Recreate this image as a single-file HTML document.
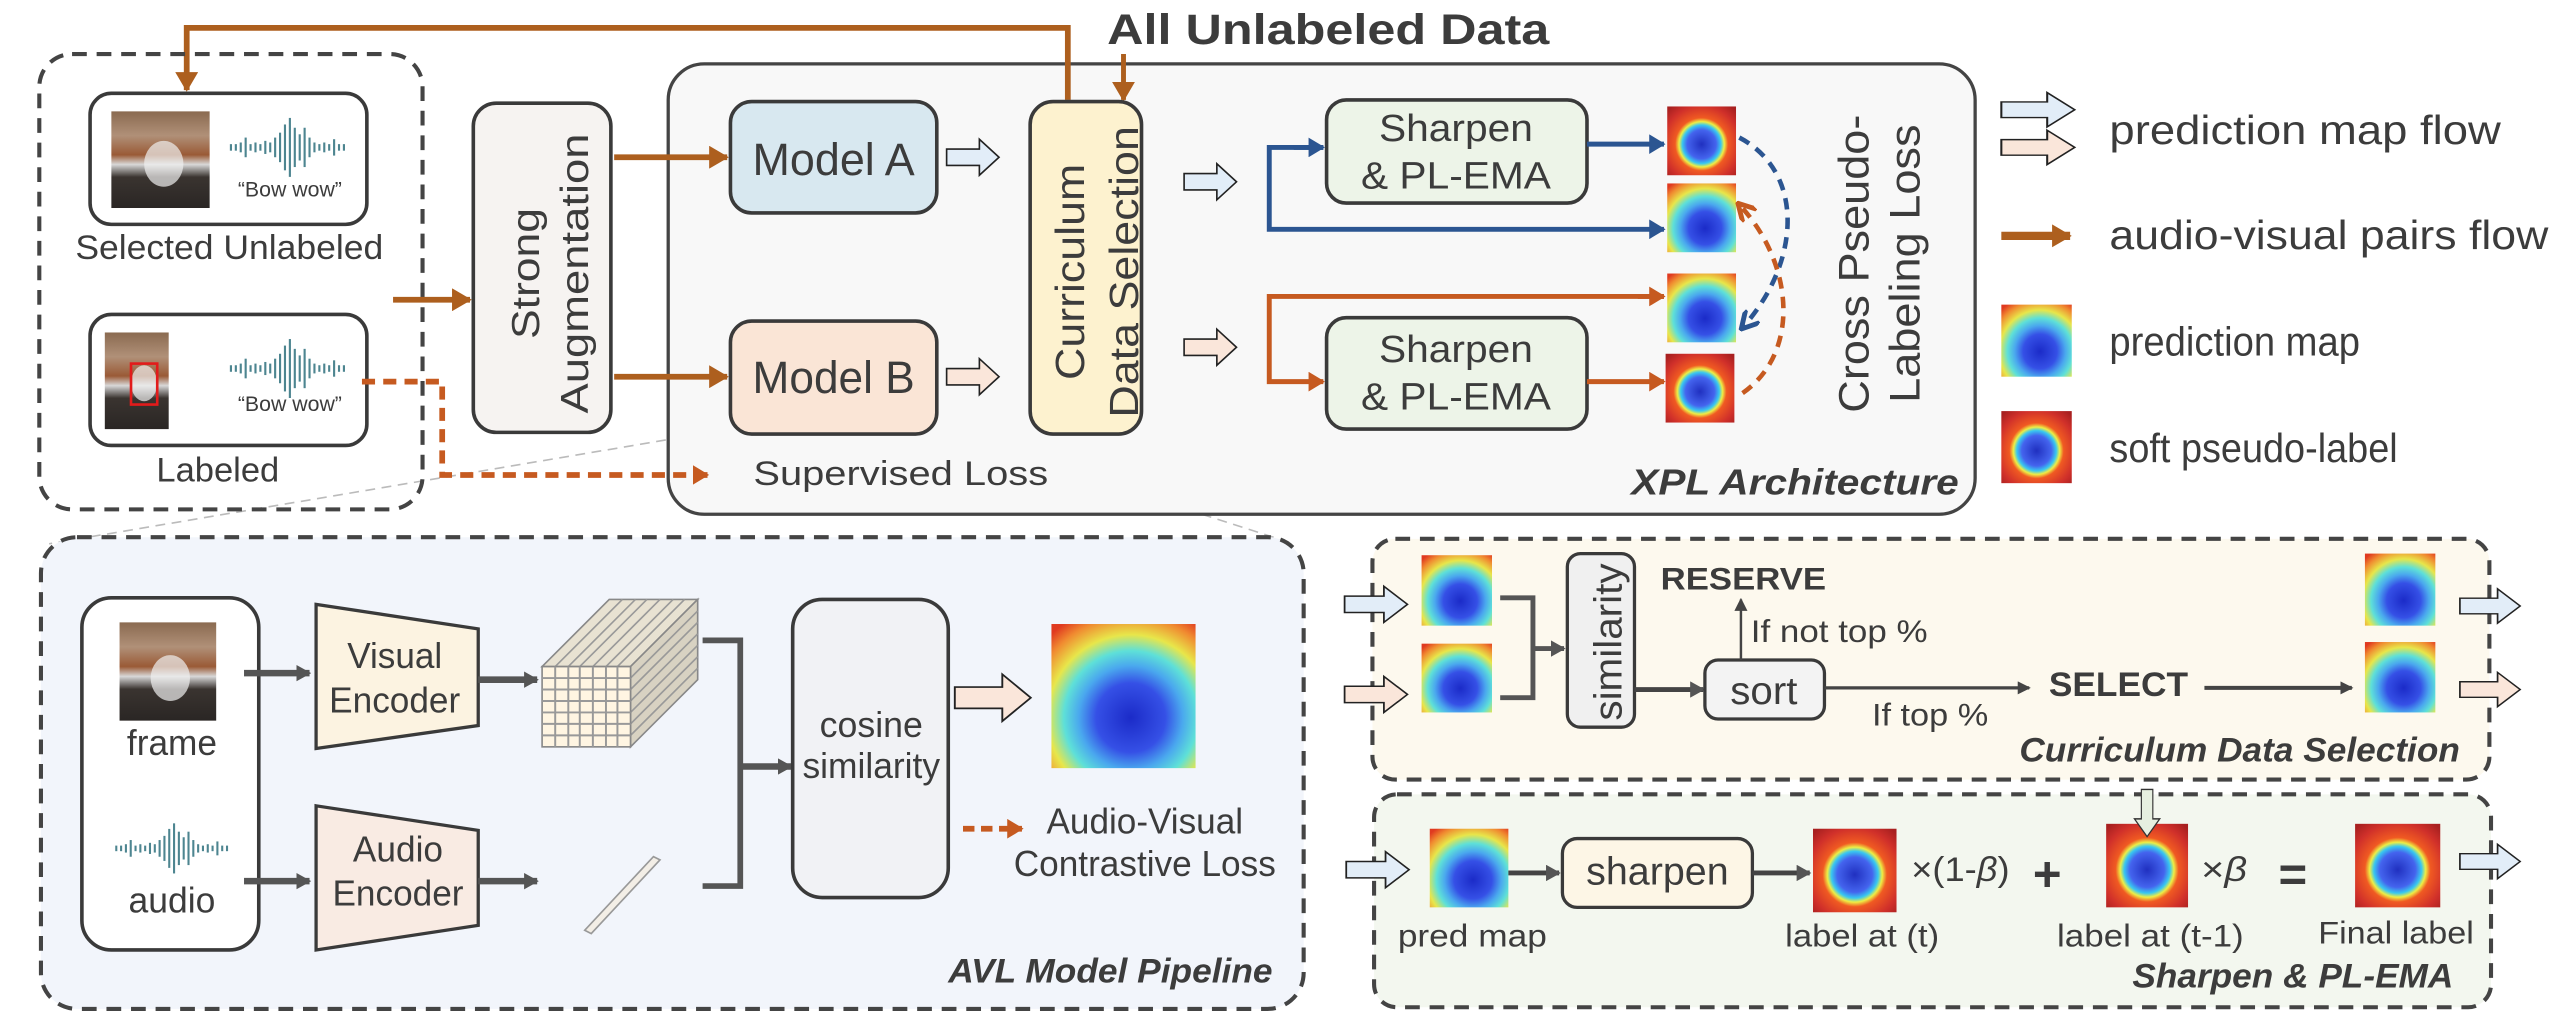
<!DOCTYPE html>
<html><head><meta charset="utf-8"><style>
html,body{margin:0;padding:0;background:#fff;}
svg{display:block;}
text{font-family:"Liberation Sans",sans-serif;fill:#3c3c3c;}
.n{font-family:"Liberation Sans Narrow","Liberation Sans",sans-serif;}
</style></head><body>
<svg width="2568" height="1022" viewBox="0 0 1568 624" preserveAspectRatio="none" xmlns="http://www.w3.org/2000/svg">
<defs>
<radialGradient id="pg" cx="0.55" cy="0.65" r="0.8">
<stop offset="0" stop-color="#1b2bc8"/><stop offset="0.3" stop-color="#3550e6"/><stop offset="0.45" stop-color="#4aa8ee"/><stop offset="0.58" stop-color="#5ee0d8"/><stop offset="0.72" stop-color="#e8e64a"/><stop offset="0.88" stop-color="#f08a30"/><stop offset="1" stop-color="#e03a20"/>
</radialGradient>
<radialGradient id="sg" cx="0.5" cy="0.55" r="0.7">
<stop offset="0" stop-color="#2030c0"/><stop offset="0.3" stop-color="#4464ee"/><stop offset="0.4" stop-color="#38c8f0"/><stop offset="0.47" stop-color="#eeee44"/><stop offset="0.55" stop-color="#f05a22"/><stop offset="0.8" stop-color="#d0302a"/><stop offset="1" stop-color="#a82020"/>
</radialGradient>
<linearGradient id="dog" x1="0" y1="0" x2="0" y2="1">
<stop offset="0" stop-color="#8a6a50"/><stop offset="0.25" stop-color="#b09078"/><stop offset="0.45" stop-color="#9a5a36"/><stop offset="0.55" stop-color="#d8d8d8"/><stop offset="0.68" stop-color="#3a3430"/><stop offset="1" stop-color="#2a2624"/>
</linearGradient>
<path id="ha" d="M0,-5 H20 V-11 L32,0 L20,11 V5 H0 Z"/>
<g id="wave" stroke="#4d8590" stroke-width="1.3">
<line x1="0" y1="-2" x2="0" y2="2"/><line x1="3" y1="-2" x2="3" y2="2"/><line x1="6" y1="-3" x2="6" y2="3"/><line x1="9" y1="-6" x2="9" y2="6"/><line x1="12" y1="-2" x2="12" y2="2"/><line x1="15" y1="-3" x2="15" y2="3"/><line x1="18" y1="-2" x2="18" y2="2"/><line x1="21" y1="-4" x2="21" y2="4"/><line x1="24" y1="-3" x2="24" y2="3"/><line x1="27" y1="-6" x2="27" y2="6"/><line x1="30" y1="-9" x2="30" y2="9"/><line x1="33" y1="-14" x2="33" y2="14"/><line x1="36" y1="-18" x2="36" y2="18"/><line x1="39" y1="-12" x2="39" y2="12"/><line x1="42" y1="-8" x2="42" y2="8"/><line x1="45" y1="-12" x2="45" y2="12"/><line x1="48" y1="-6" x2="48" y2="6"/><line x1="51" y1="-3" x2="51" y2="3"/><line x1="54" y1="-2" x2="54" y2="2"/><line x1="57" y1="-3" x2="57" y2="3"/><line x1="60" y1="-2" x2="60" y2="2"/><line x1="63" y1="-5" x2="63" y2="5"/><line x1="66" y1="-2" x2="66" y2="2"/><line x1="69" y1="-2" x2="69" y2="2"/>
</g>
<marker id="mo" markerWidth="12" markerHeight="14" refX="11" refY="7" orient="auto" markerUnits="userSpaceOnUse"><path d="M0,0 L12,7 L0,14 Z" fill="#ad5f1e"/></marker>
<marker id="mr" markerWidth="10" markerHeight="12" refX="9" refY="6" orient="auto" markerUnits="userSpaceOnUse"><path d="M0,0 L10,6 L0,12 Z" fill="#c65a20"/></marker>
<marker id="mb" markerWidth="10" markerHeight="12" refX="9" refY="6" orient="auto" markerUnits="userSpaceOnUse"><path d="M0,0 L10,6 L0,12 Z" fill="#2b5591"/></marker>
<marker id="mg" markerWidth="9" markerHeight="10" refX="8" refY="5" orient="auto" markerUnits="userSpaceOnUse"><path d="M0,0 L9,5 L0,10 Z" fill="#555"/></marker>
<marker id="mk" markerWidth="8" markerHeight="8" refX="7" refY="4" orient="auto" markerUnits="userSpaceOnUse"><path d="M0,0 L8,4 L0,8 Z" fill="#444"/></marker>
<marker id="mcb" viewBox="0 0 10 10" markerWidth="12" markerHeight="12" refX="8" refY="5" orient="auto" markerUnits="userSpaceOnUse"><path d="M0,0 L9,5 L0,10" fill="none" stroke="#2b5591" stroke-width="2.5"/></marker>
<marker id="mco" viewBox="0 0 10 10" markerWidth="12" markerHeight="12" refX="8" refY="5" orient="auto" markerUnits="userSpaceOnUse"><path d="M0,0 L9,5 L0,10" fill="none" stroke="#c65a20" stroke-width="2.5"/></marker>
</defs>

<line x1="446" y1="262" x2="30" y2="332" stroke="#bbb" stroke-width="1" stroke-dasharray="6,4"/>
<line x1="572" y1="262" x2="790" y2="332" stroke="#bbb" stroke-width="1" stroke-dasharray="6,4"/>

<rect x="408" y="39" width="798" height="275" rx="22" fill="#f8f8f8" stroke="#444" stroke-width="2"/>

<path d="M652,61 V17 H114 V55" fill="none" stroke="#ad5f1e" stroke-width="3.5" marker-end="url(#mo)"/>
<text x="676" y="27" font-size="26" font-weight="bold" textLength="270" lengthAdjust="spacingAndGlyphs" class="n">All Unlabeled Data</text>
<path d="M686,33 V61" stroke="#ad5f1e" stroke-width="3" marker-end="url(#mo)"/>

<rect x="24" y="33" width="234" height="278" rx="20" fill="none" stroke="#444" stroke-width="2.5" stroke-dasharray="9,6"/>
<rect x="55" y="57" width="169" height="80" rx="13" fill="#fff" stroke="#3a3a3a" stroke-width="2.2"/>
<rect x="68" y="68" width="60" height="59" fill="url(#dog)"/>
<ellipse cx="100" cy="100" rx="12" ry="14" fill="#f0f0f0" opacity="0.7"/>
<use href="#wave" x="141" y="90"/>
<text x="177" y="120" font-size="13" text-anchor="middle" fill="#555">“Bow wow”</text>
<text x="140" y="158" font-size="21" text-anchor="middle" class="n" textLength="188" lengthAdjust="spacingAndGlyphs">Selected Unlabeled</text>
<rect x="55" y="192" width="169" height="80" rx="13" fill="#fff" stroke="#3a3a3a" stroke-width="2.2"/>
<rect x="64" y="203" width="39" height="59" fill="url(#dog)"/>
<ellipse cx="88" cy="234" rx="8" ry="11" fill="#f0f0f0" opacity="0.7"/>
<rect x="80" y="222" width="16" height="25" fill="none" stroke="#e21b1b" stroke-width="1.6"/>
<use href="#wave" x="141" y="225"/>
<text x="177" y="251" font-size="13" text-anchor="middle" fill="#555">“Bow wow”</text>
<text x="133" y="294" font-size="21" text-anchor="middle" class="n" textLength="75" lengthAdjust="spacingAndGlyphs">Labeled</text>

<path d="M221,233 H270 V290 H432" fill="none" stroke="#c65a20" stroke-width="3.5" stroke-dasharray="8,5" marker-end="url(#mr)"/>
<text x="460" y="296" font-size="21" class="n" textLength="180" lengthAdjust="spacingAndGlyphs">Supervised Loss</text>

<path d="M240,183 H287" stroke="#ad5f1e" stroke-width="3.5" marker-end="url(#mo)"/>
<rect x="289" y="63" width="84" height="201" rx="14" fill="#f6f3f1" stroke="#3a3a3a" stroke-width="2.2"/>
<text transform="translate(329,167) rotate(-90)" font-size="24" text-anchor="middle" textLength="80" lengthAdjust="spacingAndGlyphs">Strong</text>
<text transform="translate(359,167) rotate(-90)" font-size="24" text-anchor="middle" textLength="171" lengthAdjust="spacingAndGlyphs">Augmentation</text>
<path d="M375,96 H444" stroke="#ad5f1e" stroke-width="3.5" marker-end="url(#mo)"/>
<path d="M375,230 H444" stroke="#ad5f1e" stroke-width="3.5" marker-end="url(#mo)"/>

<rect x="446" y="62" width="126" height="68" rx="13" fill="#d8e8f0" stroke="#3a3a3a" stroke-width="2.2"/>
<text x="509" y="107" font-size="28" text-anchor="middle" class="n" textLength="99" lengthAdjust="spacingAndGlyphs">Model A</text>
<rect x="446" y="196" width="126" height="69" rx="13" fill="#fae5d6" stroke="#3a3a3a" stroke-width="2.2"/>
<text x="509" y="240" font-size="28" text-anchor="middle" class="n" textLength="99" lengthAdjust="spacingAndGlyphs">Model B</text>

<use href="#ha" x="578" y="96" fill="#e2edf8" stroke="#222" stroke-width="1"/>
<use href="#ha" x="578" y="230" fill="#fae6da" stroke="#222" stroke-width="1"/>

<rect x="629" y="62" width="68" height="203" rx="14" fill="#fdf2cf" stroke="#3a3a3a" stroke-width="2.2"/>
<text transform="translate(662,166) rotate(-90)" font-size="25" text-anchor="middle" textLength="132" lengthAdjust="spacingAndGlyphs">Curriculum</text>
<text transform="translate(695,166) rotate(-90)" font-size="25" text-anchor="middle" textLength="178" lengthAdjust="spacingAndGlyphs">Data Selection</text>

<use href="#ha" x="723" y="111" fill="#e2edf8" stroke="#222" stroke-width="1"/>
<use href="#ha" x="723" y="212" fill="#fae6da" stroke="#222" stroke-width="1"/>

<path d="M808,90 H775 V140 H1016" fill="none" stroke="#2b5591" stroke-width="3" marker-end="url(#mb)"/>
<path d="M790,90 H808" stroke="#2b5591" stroke-width="3" marker-end="url(#mb)"/>
<path d="M1016,181 H775 V233 H808" fill="none" stroke="#c65a20" stroke-width="3" marker-end="url(#mr)"/>
<path d="M1000,181 H1016" stroke="#c65a20" stroke-width="3" marker-end="url(#mr)"/>

<rect x="810" y="61" width="159" height="63" rx="12" fill="#edf4e8" stroke="#3a3a3a" stroke-width="2.2"/>
<text x="889" y="86" font-size="23" text-anchor="middle" textLength="94" lengthAdjust="spacingAndGlyphs">Sharpen</text>
<text x="889" y="115" font-size="23" text-anchor="middle" textLength="116" lengthAdjust="spacingAndGlyphs">&amp; PL-EMA</text>
<rect x="810" y="194" width="159" height="68" rx="12" fill="#edf4e8" stroke="#3a3a3a" stroke-width="2.2"/>
<text x="889" y="221" font-size="23" text-anchor="middle" textLength="94" lengthAdjust="spacingAndGlyphs">Sharpen</text>
<text x="889" y="250" font-size="23" text-anchor="middle" textLength="116" lengthAdjust="spacingAndGlyphs">&amp; PL-EMA</text>
<path d="M969,88 H1016" stroke="#2b5591" stroke-width="3" marker-end="url(#mb)"/>
<path d="M969,233 H1016" stroke="#c65a20" stroke-width="3" marker-end="url(#mr)"/>

<rect x="1018" y="65" width="42" height="42" fill="url(#sg)"/>
<rect x="1018" y="112" width="42" height="42" fill="url(#pg)"/>
<rect x="1018" y="167" width="42" height="42" fill="url(#pg)"/>
<rect x="1017" y="216" width="42" height="42" fill="url(#sg)"/>

<path d="M1062,84 C1102,105 1100,160 1064,200" fill="none" stroke="#2b5591" stroke-width="2.8" stroke-dasharray="7,5" marker-end="url(#mcb)"/>
<path d="M1064,240 C1100,215 1095,160 1062,125" fill="none" stroke="#c65a20" stroke-width="2.8" stroke-dasharray="7,5" marker-end="url(#mco)"/>

<text transform="translate(1141,161) rotate(-90)" font-size="26" text-anchor="middle" textLength="182" lengthAdjust="spacingAndGlyphs">Cross Pseudo-</text>
<text transform="translate(1172,161) rotate(-90)" font-size="26" text-anchor="middle" textLength="170" lengthAdjust="spacingAndGlyphs">Labeling Loss</text>
<text x="1196" y="302" font-size="22" font-weight="bold" font-style="italic" text-anchor="end" class="n" textLength="200" lengthAdjust="spacingAndGlyphs" fill="#2a2a2a">XPL Architecture</text>

<use href="#ha" transform="translate(1222,67) scale(1.4,0.95)" fill="#e2edf8" stroke="#222" stroke-width="0.9"/>
<use href="#ha" transform="translate(1222,90) scale(1.4,0.95)" fill="#fae6da" stroke="#222" stroke-width="0.9"/>
<text x="1288" y="88" font-size="25" class="n" textLength="239" lengthAdjust="spacingAndGlyphs">prediction map flow</text>
<path d="M1222,144 H1264" stroke="#ad5f1e" stroke-width="5" marker-end="url(#mo)"/>
<text x="1288" y="152" font-size="25" class="n" textLength="268" lengthAdjust="spacingAndGlyphs">audio-visual pairs flow</text>
<rect x="1222" y="186" width="43" height="44" fill="url(#pg)"/>
<text x="1288" y="217" font-size="25" class="n" textLength="153" lengthAdjust="spacingAndGlyphs">prediction map</text>
<rect x="1222" y="251" width="43" height="44" fill="url(#sg)"/>
<text x="1288" y="282" font-size="25" class="n" textLength="176" lengthAdjust="spacingAndGlyphs">soft pseudo-label</text>

<rect x="25" y="328" width="771" height="288" rx="22" fill="#f2f5fb" stroke="#444" stroke-width="2.5" stroke-dasharray="9,6"/>
<rect x="50" y="365" width="108" height="215" rx="18" fill="#fff" stroke="#3a3a3a" stroke-width="2.2"/>
<rect x="73" y="380" width="59" height="60" fill="url(#dog)"/>
<ellipse cx="104" cy="414" rx="12" ry="14" fill="#f0f0f0" opacity="0.7"/>
<text x="105" y="461" font-size="22" text-anchor="middle" class="n" textLength="55" lengthAdjust="spacingAndGlyphs">frame</text>
<use href="#wave" transform="translate(71,518) scale(0.98,0.85)"/>
<text x="105" y="557" font-size="22" text-anchor="middle" class="n" textLength="53" lengthAdjust="spacingAndGlyphs">audio</text>
<path d="M149,411 H189" stroke="#555" stroke-width="4" marker-end="url(#mg)"/>
<path d="M149,538 H189" stroke="#555" stroke-width="4" marker-end="url(#mg)"/>
<polygon points="193,369 292,384 292,443 193,457" fill="#fcf3e1" stroke="#3a3a3a" stroke-width="2"/>
<text x="241" y="408" font-size="22" text-anchor="middle" class="n" textLength="58" lengthAdjust="spacingAndGlyphs">Visual</text>
<text x="241" y="435" font-size="22" text-anchor="middle" class="n" textLength="80" lengthAdjust="spacingAndGlyphs">Encoder</text>
<polygon points="193,492 292,507 292,565 193,580" fill="#f9ebe3" stroke="#3a3a3a" stroke-width="2"/>
<text x="243" y="526" font-size="22" text-anchor="middle" class="n" textLength="55" lengthAdjust="spacingAndGlyphs">Audio</text>
<text x="243" y="553" font-size="22" text-anchor="middle" class="n" textLength="80" lengthAdjust="spacingAndGlyphs">Encoder</text>
<path d="M292,415 H328" stroke="#555" stroke-width="4" marker-end="url(#mg)"/>
<path d="M292,538 H328" stroke="#555" stroke-width="4" marker-end="url(#mg)"/>
<polygon points="331,407 372,366 426,366 385,407" fill="#e8e2d2" stroke="#888" stroke-width="1"/>
<polygon points="385,407 426,366 426,415 385,456" fill="#d8d2c2" stroke="#888" stroke-width="1"/>
<g stroke="#999" stroke-width="1">
<line x1="339" y1="407" x2="380" y2="366"/><line x1="347" y1="407" x2="388" y2="366"/><line x1="354" y1="407" x2="395" y2="366"/><line x1="362" y1="407" x2="403" y2="366"/><line x1="370" y1="407" x2="411" y2="366"/><line x1="377" y1="407" x2="418" y2="366"/>
<line x1="385" y1="414" x2="426" y2="373"/><line x1="385" y1="421" x2="426" y2="380"/><line x1="385" y1="428" x2="426" y2="387"/><line x1="385" y1="435" x2="426" y2="394"/><line x1="385" y1="442" x2="426" y2="401"/><line x1="385" y1="449" x2="426" y2="408"/>
</g>
<rect x="331" y="407" width="54" height="49" fill="#fff5e2" stroke="#888" stroke-width="1"/>
<g stroke="#999" stroke-width="1.2">
<line x1="339" y1="407" x2="339" y2="456"/><line x1="347" y1="407" x2="347" y2="456"/><line x1="354" y1="407" x2="354" y2="456"/><line x1="362" y1="407" x2="362" y2="456"/><line x1="370" y1="407" x2="370" y2="456"/><line x1="377" y1="407" x2="377" y2="456"/>
<line x1="331" y1="414" x2="385" y2="414"/><line x1="331" y1="421" x2="385" y2="421"/><line x1="331" y1="428" x2="385" y2="428"/><line x1="331" y1="435" x2="385" y2="435"/><line x1="331" y1="442" x2="385" y2="442"/><line x1="331" y1="449" x2="385" y2="449"/>
</g>
<polygon points="357,568 399,523 403,525 361,570" fill="#f3eee6" stroke="#999" stroke-width="1"/>
<path d="M429,391 H452 V541 H429" fill="none" stroke="#555" stroke-width="3.5"/>
<path d="M452,468 H483" stroke="#555" stroke-width="4" marker-end="url(#mg)"/>
<rect x="484" y="366" width="95" height="182" rx="18" fill="#f1f2f5" stroke="#3a3a3a" stroke-width="2.2"/>
<text x="532" y="450" font-size="22" text-anchor="middle" class="n" textLength="63" lengthAdjust="spacingAndGlyphs">cosine</text>
<text x="532" y="475" font-size="22" text-anchor="middle" class="n" textLength="84" lengthAdjust="spacingAndGlyphs">similarity</text>
<use href="#ha" transform="translate(583,426) scale(1.45,1.3)" fill="#fae6da" stroke="#222" stroke-width="0.8"/>
<rect x="642" y="381" width="88" height="88" fill="url(#pg)"/>
<path d="M588,506 H624" stroke="#c65a20" stroke-width="3.5" stroke-dasharray="7,4" marker-end="url(#mr)"/>
<text x="699" y="509" font-size="22" text-anchor="middle" class="n" textLength="120" lengthAdjust="spacingAndGlyphs">Audio-Visual</text>
<text x="699" y="535" font-size="22" text-anchor="middle" class="n" textLength="160" lengthAdjust="spacingAndGlyphs">Contrastive Loss</text>
<text x="777" y="600" font-size="21" font-weight="bold" font-style="italic" text-anchor="end" class="n" textLength="198" lengthAdjust="spacingAndGlyphs" fill="#1f4e79">AVL Model Pipeline</text>

<rect x="838" y="329" width="682" height="147" rx="14" fill="#fdf9ee" stroke="#444" stroke-width="2.5" stroke-dasharray="9,6"/>
<use href="#ha" transform="translate(821,369) scale(1.2,1)" fill="#e2edf8" stroke="#222" stroke-width="0.9"/>
<use href="#ha" transform="translate(821,424) scale(1.2,1)" fill="#fae6da" stroke="#222" stroke-width="0.9"/>
<rect x="868" y="339" width="43" height="43" fill="url(#pg)"/>
<rect x="868" y="393" width="43" height="42" fill="url(#pg)"/>
<path d="M916,365 H936 V426 H916" fill="none" stroke="#555" stroke-width="3"/>
<path d="M936,396 H955" stroke="#555" stroke-width="3" marker-end="url(#mg)"/>
<rect x="957" y="338" width="41" height="106" rx="8" fill="#f0f0f0" stroke="#3a3a3a" stroke-width="2"/>
<text transform="translate(990,392) rotate(-90)" font-size="24" text-anchor="middle" textLength="96" lengthAdjust="spacingAndGlyphs">similarity</text>
<path d="M998,421 H1040" stroke="#444" stroke-width="3" marker-end="url(#mg)"/>
<rect x="1041" y="403" width="73" height="36" rx="8" fill="#f3f3f3" stroke="#3a3a3a" stroke-width="2"/>
<text x="1077" y="430" font-size="24" text-anchor="middle" class="n" textLength="41" lengthAdjust="spacingAndGlyphs">sort</text>
<path d="M1063,403 V366" stroke="#444" stroke-width="1.5" marker-end="url(#mk)"/>
<text x="1014" y="360" font-size="19" font-weight="bold" fill="#888" class="n" textLength="101" lengthAdjust="spacingAndGlyphs">RESERVE</text>
<text x="1069" y="392" font-size="19" class="n" textLength="108" lengthAdjust="spacingAndGlyphs">If not top %</text>
<path d="M1114,420 H1239" stroke="#444" stroke-width="2" marker-end="url(#mk)"/>
<text x="1143" y="443" font-size="19" class="n" textLength="71" lengthAdjust="spacingAndGlyphs">If top %</text>
<text x="1251" y="425" font-size="21" font-weight="bold" fill="#5a8a2e" class="n" textLength="85" lengthAdjust="spacingAndGlyphs">SELECT</text>
<path d="M1346,420 H1436" stroke="#444" stroke-width="2.5" marker-end="url(#mk)"/>
<rect x="1444" y="338" width="43" height="44" fill="url(#pg)"/>
<rect x="1444" y="392" width="43" height="43" fill="url(#pg)"/>
<use href="#ha" transform="translate(1502,370) scale(1.15,0.95)" fill="#e2edf8" stroke="#222" stroke-width="0.9"/>
<use href="#ha" transform="translate(1502,421) scale(1.15,0.95)" fill="#fae6da" stroke="#222" stroke-width="0.9"/>
<text x="1502" y="465" font-size="21" font-weight="bold" font-style="italic" text-anchor="end" fill="#d9862a" class="n" textLength="269" lengthAdjust="spacingAndGlyphs">Curriculum Data Selection</text>

<rect x="839" y="485" width="682" height="130" rx="14" fill="#f3f7ef" stroke="#444" stroke-width="2.5" stroke-dasharray="9,6"/>
<use href="#ha" transform="translate(822,531) scale(1.2,1)" fill="#e2edf8" stroke="#222" stroke-width="0.9"/>
<rect x="873" y="506" width="48" height="48" fill="url(#pg)"/>
<path d="M921,533 H952" stroke="#444" stroke-width="3" marker-end="url(#mg)"/>
<rect x="954" y="512" width="116" height="42" rx="9" fill="#fdf6e6" stroke="#3a3a3a" stroke-width="2"/>
<text x="1012" y="540" font-size="24" text-anchor="middle" class="n" textLength="87" lengthAdjust="spacingAndGlyphs">sharpen</text>
<path d="M1070,533 H1105" stroke="#444" stroke-width="3" marker-end="url(#mg)"/>
<rect x="1107" y="506" width="51" height="51" fill="url(#sg)"/>
<text x="1167" y="538" font-size="21" class="n" textLength="60" lengthAdjust="spacingAndGlyphs">×(1-<tspan font-style="italic">β</tspan>)</text>
<text x="1250" y="544" font-size="30" font-weight="bold" text-anchor="middle" fill="#111">+</text>
<rect x="1286" y="503" width="50" height="51" fill="url(#sg)"/>
<use href="#ha" transform="translate(1311,482) rotate(90) scale(0.9,0.7)" fill="#e6efe0" stroke="#333" stroke-width="1"/>
<text x="1344" y="538" font-size="21" class="n" textLength="28" lengthAdjust="spacingAndGlyphs">×<tspan font-style="italic">β</tspan></text>
<text x="1400" y="544" font-size="30" font-weight="bold" text-anchor="middle" fill="#111">=</text>
<rect x="1438" y="503" width="52" height="51" fill="url(#sg)"/>
<use href="#ha" transform="translate(1502,526) scale(1.15,0.95)" fill="#e2edf8" stroke="#222" stroke-width="0.9"/>
<text x="899" y="578" font-size="19" text-anchor="middle" class="n" textLength="91" lengthAdjust="spacingAndGlyphs">pred map</text>
<text x="1137" y="578" font-size="19" text-anchor="middle" class="n" textLength="94" lengthAdjust="spacingAndGlyphs">label at (t)</text>
<text x="1313" y="578" font-size="19" text-anchor="middle" class="n" textLength="114" lengthAdjust="spacingAndGlyphs">label at (t-1)</text>
<text x="1463" y="576" font-size="19" text-anchor="middle" class="n" textLength="95" lengthAdjust="spacingAndGlyphs">Final label</text>
<text x="1498" y="603" font-size="21" font-weight="bold" font-style="italic" text-anchor="end" fill="#5a8a2e" class="n" textLength="196" lengthAdjust="spacingAndGlyphs">Sharpen &amp; PL-EMA</text>
</svg>
</body></html>
